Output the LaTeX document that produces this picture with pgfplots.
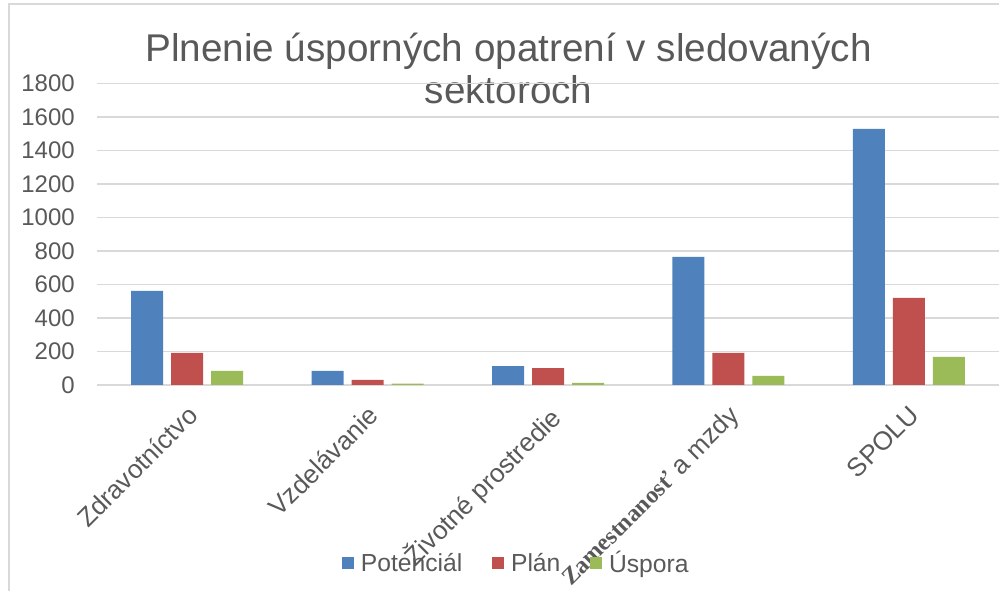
\documentclass[border=0pt]{standalone}
\usepackage{pgfplots}
\pgfplotsset{compat=1.18}
\usepackage{fontspec}
\setmainfont{Liberation Sans}
\newfontfamily\serifb{Liberation Serif}
\definecolor{txt}{HTML}{595959}
\definecolor{grd}{HTML}{D9D9D9}
\definecolor{cA}{HTML}{4F81BD}
\definecolor{cB}{HTML}{C0504D}
\definecolor{cC}{HTML}{9BBB59}
\begin{document}
\begin{tikzpicture}
\path[use as bounding box] (0,0) rectangle (756pt,443.25pt);
\draw[grd, line width=1.1pt] (6.75pt,0) -- (6.75pt,440.25pt) -- (749.25pt,440.25pt);
\node[anchor=base, text=txt, font=\fontsize{29pt}{34pt}\selectfont] at (381.4pt,396.75pt) {Plnenie úsporných opatrení v sledovaných};
\node[anchor=base, text=txt, font=\fontsize{29pt}{34pt}\selectfont] at (381.4pt,365.25pt) {sektoroch};
\begin{axis}[
 at={(72.75pt,154.5pt)}, anchor=south west,
 scale only axis, width=676.5pt, height=226.3pt,
 xmin=-0.5, xmax=4.5, ymin=0, ymax=1800,
 ybar=6pt, bar width=24pt,
 ytick={0,200,...,1800},
 xtick={0,1,2,3,4},
 xticklabels={Zdravotníctvo, Vzdelávanie, Životné prostredie, {{\fontsize{18pt}{18pt}\selectfont\textbf{\serifb Zamestnanosť}} a mzdy}, SPOLU},
 ymajorgrids, grid style={grd, line width=1.1pt},
 axis x line*=bottom, axis y line*=left,
 x axis line style={grd, line width=1.1pt, -},
 y axis line style={draw=none},
 major tick length=0pt,
 scaled y ticks=false,
 /pgf/number format/1000 sep={},
 /pgf/number format/assume math mode=true,
 yticklabel style={inner sep=0pt, xshift=-16.5pt, font=\fontsize{18pt}{20pt}\selectfont, text=txt},
 xticklabel style={inner sep=0pt, xshift=-1pt, yshift=-14pt, rotate=45, anchor=north east, font=\fontsize{19.5pt}{20pt}\selectfont, text=txt},
 legend columns=-1,
 legend style={at={(axis description cs:0.465,-0.59)}, anchor=center, draw=none, fill=none,
   font=\fontsize{18.5pt}{20pt}\selectfont, text=txt,
   /tikz/every odd column/.append style={column sep=3pt},
   /tikz/every even column/.append style={column sep=20pt}},
 legend image code/.code={\fill[#1] (0pt,-4.8pt) rectangle (9.5pt,4.8pt);},
]
\addplot[fill=cA, draw=none] coordinates {(0,561) (1,84) (2,113) (3,764) (4,1528)};
\addplot[fill=cB, draw=none] coordinates {(0,191) (1,30) (2,101) (3,191) (4,519)};
\addplot[fill=cC, draw=none] coordinates {(0,84) (1,8) (2,12) (3,54) (4,167)};
\legend{Potenciál, Plán, Úspora}
\end{axis}
\end{tikzpicture}
\end{document}
